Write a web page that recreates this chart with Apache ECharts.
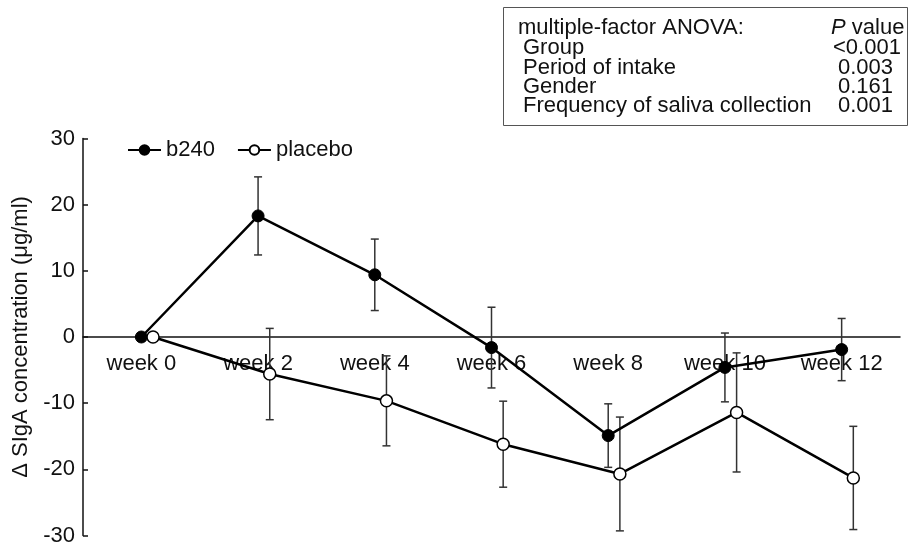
<!DOCTYPE html>
<html>
<head>
<meta charset="utf-8">
<script src="https://cdn.jsdelivr.net/npm/echarts@6/dist/echarts.min.js"></script>
<style>
  html, body { margin: 0; padding: 0; background: #fff; }
  #main { width: 910px; height: 545px; }
</style>
</head>
<body>
<div id="main"></div>
<script>
// categories and values
const weeks = ['week 0', 'week 2', 'week 4', 'week 6', 'week 8', 'week 10', 'week 12'];
const weekNums = [0, 2, 4, 6, 8, 10, 12];
const b240Mean = [0, 18.3, 9.4, -1.6, -14.9, -4.6, -1.9];
const b240Err = [0, 5.9, 5.4, 6.1, 4.8, 5.2, 4.7];
const placeboMean = [0, -5.6, -9.65, -16.2, -20.7, -11.4, -21.3];
const placeboErr = [0, 6.9, 6.8, 6.5, 8.6, 9.0, 7.8];
const yTicks = [-30, -20, -10, 0, 10, 20, 30];

// anova box rows
const anovaRows = ['Group', 'Period of intake', 'Gender', 'Frequency of saliva collection'];
const anovaP = ['<0.001', '0.003', '0.161', '0.001'];

const placeboShift = 0.2; // placebo drawn a bit right of the category centre
const font = '"Liberation Sans", Arial, sans-serif';
const fs = 22;
const gridTop = 138.5, gridBottom = 9.5;
const plotH = 545 - gridTop - gridBottom;

function pts(means, shift) {
  return means.map((v, i) => [weekNums[i] + shift, v]);
}
function bars(means, errs, shift) {
  return means.map((v, i) => [weekNums[i] + shift, v - errs[i], v + errs[i]]);
}

function errorBar(params, api) {
  const lo = api.value(1), hi = api.value(2);
  if (hi - lo <= 0) return null;
  const top = api.coord([api.value(0), hi]);
  const bot = api.coord([api.value(0), lo]);
  const st = { stroke: '#333', lineWidth: 1.5 };
  return {
    type: 'group',
    children: [
      { type: 'line', shape: { x1: top[0], y1: top[1], x2: bot[0], y2: bot[1] }, style: st },
      { type: 'line', shape: { x1: top[0] - 4, y1: top[1], x2: top[0] + 4, y2: top[1] }, style: st },
      { type: 'line', shape: { x1: bot[0] - 4, y1: bot[1], x2: bot[0] + 4, y2: bot[1] }, style: st }
    ]
  };
}

const chart = echarts.init(document.getElementById('main'));

const txt = (s, x, y) => ({ type: 'text', x: x, y: y, z: 11,
  style: { text: s, font: fs + 'px ' + font, fill: '#111', verticalAlign: 'middle' } });

const boxEls = [
  { type: 'rect', z: 10, shape: { x: 503.5, y: 7.5, width: 404, height: 118 },
    style: { fill: '#fff', stroke: '#555', lineWidth: 1 } },
  txt('multiple-factor ANOVA:', 518, 28),
  { type: 'text', x: 831, y: 28, z: 11,
    style: { text: '{i|P} value', font: fs + 'px ' + font, fill: '#111', verticalAlign: 'middle',
      rich: { i: { fontStyle: 'italic', fontSize: fs, fontFamily: font, fill: '#111' } } } }
];
const rowY = [48, 67.5, 87, 106];
anovaRows.forEach((r, i) => {
  boxEls.push(txt(r, 523, rowY[i]));
  boxEls.push(txt(anovaP[i], anovaP[i][0] === '<' ? 833 : 838, rowY[i]));
});

chart.setOption({
  animation: false,
  textStyle: { fontFamily: font },
  grid: { left: 83, right: 10, top: gridTop, bottom: gridBottom, containLabel: false, outerBoundsMode: 'none' },
  legend: {
    left: 122, top: 134,
    itemWidth: 33, itemHeight: 12, itemGap: 22,
    textStyle: { fontSize: fs, color: '#111', fontFamily: font },
    data: ['b240', 'placebo']
  },
  xAxis: [
    {
      type: 'category', data: weeks, position: 'bottom',
      // sit the category axis on y = 0 (half of the plot height above the bottom)
      offset: -plotH / 2,
      axisLine: { onZero: false, lineStyle: { color: '#111', width: 1.5 } },
      axisTick: { inside: true, length: 5, lineStyle: { color: '#111', width: 1.5 } },
      axisLabel: { fontSize: fs, color: '#111', margin: 16 },
      splitLine: { show: false }
    },
    { type: 'value', min: -1, max: 13, show: false, axisLine: { onZero: false } }
  ],
  yAxis: {
    type: 'value', min: yTicks[0], max: yTicks[yTicks.length - 1], interval: 10,
    name: 'Δ SIgA concentration (μg/ml)', nameLocation: 'middle', nameGap: 46,
    nameTextStyle: { fontSize: fs, color: '#111' },
    axisLine: { show: true, onZero: false, lineStyle: { color: '#111', width: 1.5 } },
    axisTick: { show: true, inside: true, length: 5, lineStyle: { color: '#111', width: 1.5 } },
    axisLabel: { fontSize: fs, color: '#111', margin: 8 },
    splitLine: { show: false }
  },
  series: [
    { type: 'custom', xAxisIndex: 1, renderItem: errorBar, encode: { x: 0, y: [1, 2] },
      data: bars(b240Mean, b240Err, 0), z: 1, silent: true },
    { type: 'custom', xAxisIndex: 1, renderItem: errorBar, encode: { x: 0, y: [1, 2] },
      data: bars(placeboMean, placeboErr, placeboShift), z: 1, silent: true },
    { name: 'b240', type: 'line', xAxisIndex: 1, data: pts(b240Mean, 0), z: 3,
      symbol: 'circle', symbolSize: 12,
      lineStyle: { color: '#000', width: 2.5 },
      itemStyle: { color: '#000', borderColor: '#000', borderWidth: 1 } },
    { name: 'placebo', type: 'line', xAxisIndex: 1, data: pts(placeboMean, placeboShift), z: 4,
      symbol: 'circle', symbolSize: 12,
      lineStyle: { color: '#000', width: 2.5 },
      itemStyle: { color: '#fff', borderColor: '#000', borderWidth: 1.5 } }
  ],
  graphic: boxEls
});
</script>
</body>
</html>
